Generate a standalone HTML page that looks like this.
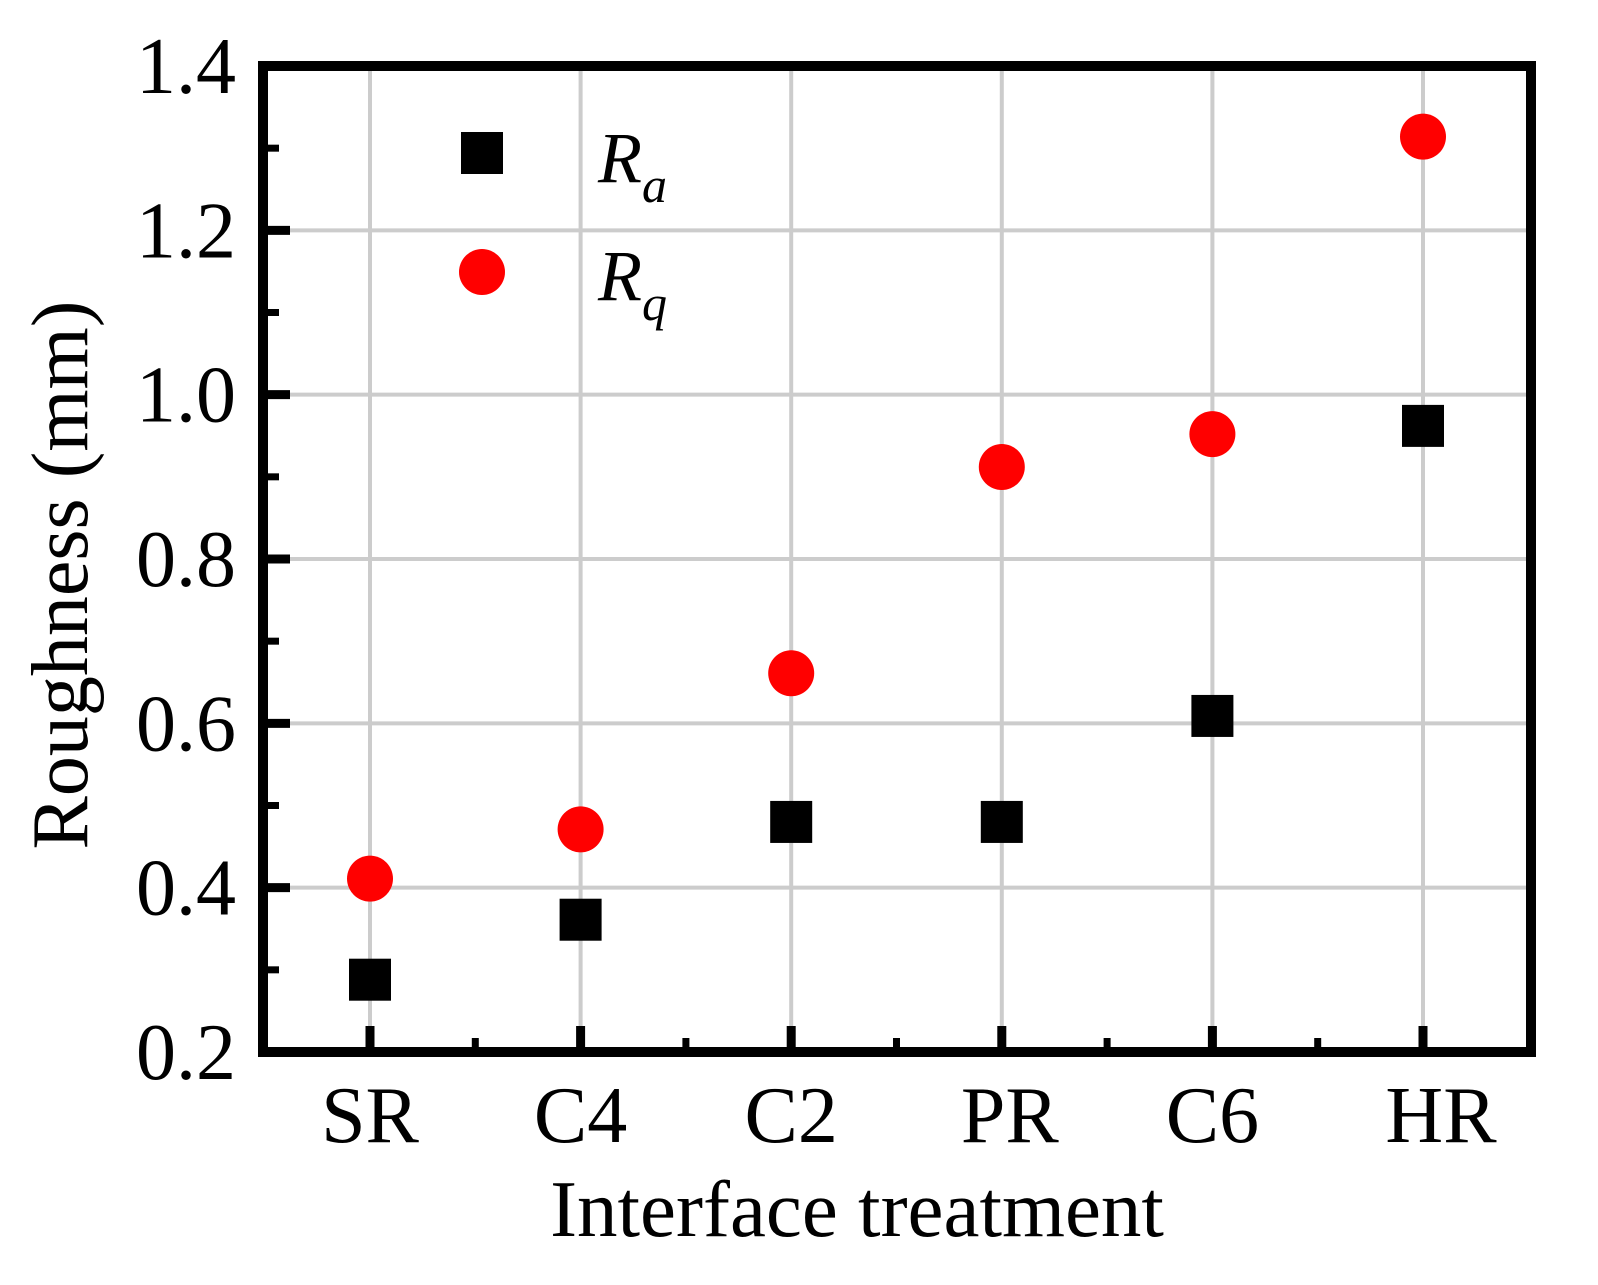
<!DOCTYPE html>
<html><head><meta charset="utf-8"><style>
html,body{margin:0;padding:0;background:#fff;}
svg{display:block;font-family:"Liberation Serif",serif;}
</style></head><body>
<svg id="chart" width="1598" height="1285" viewBox="0 0 1598 1285">
<g id="grid"></g>
<g id="marks"></g>
<rect x="263" y="66" width="1268" height="986" fill="none" stroke="#000" stroke-width="10"/>
<g id="ticks"></g>
<g id="labels" font-size="80"></g>
<text x="857" y="1236" font-size="81" text-anchor="middle">Interface treatment</text>
<text transform="translate(87,575) rotate(-90)" font-size="80" text-anchor="middle">Roughness (mm)</text>
<g>
<rect x="461" y="132" width="42" height="42" fill="#000"/>
<text x="598" y="182" font-size="72" font-style="italic">R<tspan font-size="50" dy="20">a</tspan></text>
<circle cx="482" cy="272" r="23" fill="#f00"/>
<text x="598" y="300" font-size="72" font-style="italic">R<tspan font-size="50" dy="20">q</tspan></text>
</g>
</svg>
<script>
const categories=["SR","C4","C2","PR","C6","HR"];
const raValues=[0.288,0.361,0.480,0.480,0.609,0.962];
const rqValues=[0.411,0.471,0.661,0.912,0.952,1.314];
const yTicks=[0.2,0.4,0.6,0.8,1.0,1.2,1.4];
const yTickLabels=["0.2","0.4","0.6","0.8","1.0","1.2","1.4"];
const NS="http://www.w3.org/2000/svg";
const x0=370,dx=210.6;
function xs(i){return x0+i*dx;}
function ys(v){return 1052-(v-0.2)/1.2*986;}
function mk(tag,attrs,parent){const e=document.createElementNS(NS,tag);for(const k in attrs)e.setAttribute(k,attrs[k]);document.getElementById(parent).appendChild(e);return e;}
yTicks.forEach((v,i)=>{
 if(i>0&&i<yTicks.length-1){const g=mk('line',{x1:268,x2:1526,y1:ys(v),y2:ys(v),stroke:'#cccccc','stroke-width':4},'grid');
 
 }
 const t=mk('line',{x1:268,x2:290,y1:ys(v),y2:ys(v),stroke:'#000','stroke-width':9},'ticks');
 
 
 if(i<yTicks.length-1){const m=mk('line',{x1:268,x2:279,y1:ys(v+0.1),y2:ys(v+0.1),stroke:'#000','stroke-width':7},'ticks');
 
 }
 const l=mk('text',{x:236,y:ys(v)+27,'text-anchor':'end'},'labels');l.textContent=yTickLabels[i];
 
 
});
categories.forEach((c,i)=>{
 const g=mk('line',{x1:xs(i),x2:xs(i),y1:71,y2:1047,stroke:'#cccccc','stroke-width':4},'grid');
 
 
 const t=mk('line',{x1:xs(i),x2:xs(i),y1:1047,y2:1026,stroke:'#000','stroke-width':9},'ticks');
 
 
 if(i<categories.length-1){const m=mk('line',{x1:xs(i+0.5),x2:xs(i+0.5),y1:1047,y2:1038,stroke:'#000','stroke-width':7},'ticks');
 
 }
 const l=mk('text',{x:xs(i)+(i==5?18:i==3?8:0),y:1142,'text-anchor':'middle'},'labels');l.textContent=c;
 
 
 const r=mk('rect',{x:xs(i)-21,y:ys(raValues[i])-21,width:42,height:42,fill:'#000'},'marks');
 
 
 const q=mk('circle',{cx:xs(i),cy:ys(rqValues[i]),r:23,fill:'#f00'},'marks');
 
 
});
</script>
</body></html>
